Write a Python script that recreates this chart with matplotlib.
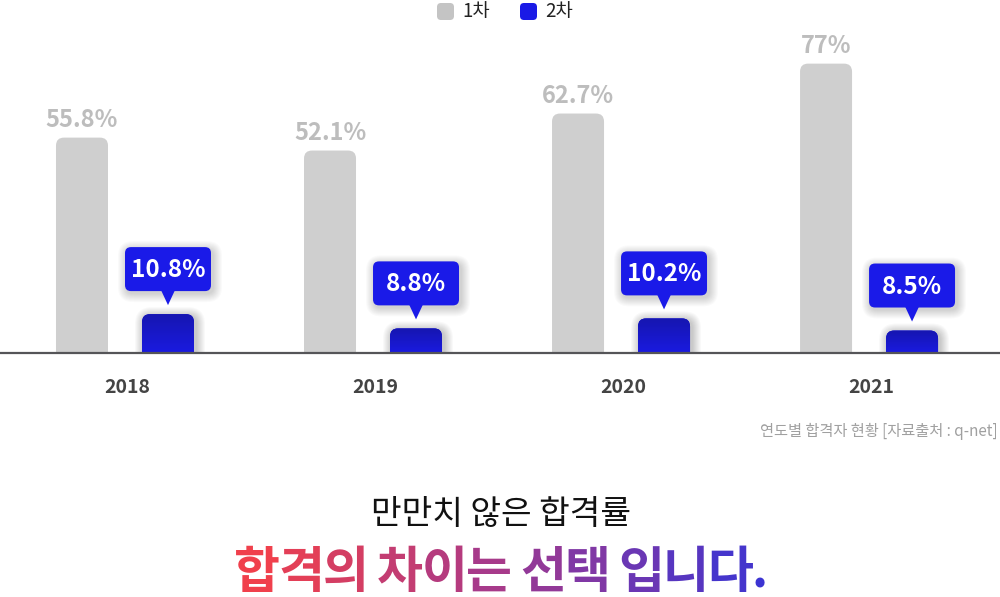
import numpy as np
import matplotlib
matplotlib.use('Agg')
import matplotlib.pyplot as plt
from matplotlib.patches import FancyBboxPatch, Polygon
from matplotlib.colors import LinearSegmentedColormap
from matplotlib.transforms import offset_copy

plt.rcParams['font.family'] = ['Noto Sans CJK KR', 'DejaVu Sans']

# ---------------- data ----------------
years = ['2018', '2019', '2020', '2021']
first_round = [55.8, 52.1, 62.7, 77]
second_round = [10.8, 8.8, 10.2, 8.5]
first_labels = ['55.8%', '52.1%', '62.7%', '77%']
second_labels = ['10.8%', '8.8%', '10.2%', '8.5%']
legend_labels = ['1차', '2차']
source_note = '연도별 합격자 현황 [자료출처 : q-net]'
title_line1 = '만만치 않은 합격률'
title_line2 = '합격의 차이는 선택 입니다.'

GRAY = '#cfcfcf'
BLUE = '#1a1ae6'

W, H = 1000, 597
fig = plt.figure(figsize=(W / 100, H / 100), dpi=100)
base_px = 353.3
rect = [0, 1 - base_px / H, 1, base_px / H]

ax1 = fig.add_axes(rect)
ax2 = fig.add_axes(rect)
for a in (ax1, ax2):
    a.set_xlim(-0.504, 3.528)
    a.axis('off')
ax1.set_ylim(-6.0, -6.0 + base_px / 3.49)
ax2.set_ylim(5.31, 5.31 + base_px / 7.14)
for a in (ax1, ax2):
    a.set_autoscale_on(False)

ov = fig.add_axes([0, 0, 1, 1], zorder=5)
ov.set_xlim(0, W)
ov.set_ylim(H, 0)
ov.axis('off')


def ux(ax):
    x0, x1 = ax.get_xlim()
    return (x1 - x0) / W


def uy(ax):
    y0, y1 = ax.get_ylim()
    return (y1 - y0) / base_px


def round_rect(ax, xc, y0, y1, wpx, rpx, **kw):
    u, v = ux(ax), uy(ax)
    w = wpx * u
    return FancyBboxPatch((xc - w / 2, y0), w, y1 - y0,
                          boxstyle=f"round,pad=0,rounding_size={rpx * u}",
                          mutation_aspect=v / u, **kw)


off = 43 / 248.0
x = np.arange(len(years))

# ---------------- gray bars (1차) ----------------
lo1 = ax1.get_ylim()[0]
v1 = uy(ax1)
for i, val in enumerate(first_round):
    p = round_rect(ax1, x[i] - off, lo1 - 20 * v1, val, 52, 8, fc=GRAY, ec='none', zorder=2)
    ax1.add_patch(p)
    ax1.text(x[i] - off, val, first_labels[i], ha='center', va='baseline',
             color='#bdbdbd', fontsize=17, fontweight='bold',
             transform=offset_copy(ax1.transData, fig, x=0, y=11, units='dots'))

# ---------------- blue bars (2차) ----------------
lo2 = ax2.get_ylim()[0]
u2, v2 = ux(ax2), uy(ax2)
bar_cmap = LinearSegmentedColormap.from_list('b', ['#1a1ae0', '#1616b0'])
grad = np.linspace(0, 1, 64).reshape(-1, 1)
for i, val in enumerate(second_round):
    xc = x[i] + off
    # soft shadow
    for k in range(1, 10):
        sh = round_rect(ax2, xc + 2 * u2, lo2 - 20 * v2, val + (k - 2) * v2, 52 + 2 * k, 8 + k,
                        fc='black', ec='none', alpha=0.022, zorder=2)
        ax2.add_patch(sh)
    p = round_rect(ax2, xc, lo2 - 20 * v2, val, 52, 8, fc=BLUE, ec='none', zorder=3)
    ax2.add_patch(p)
    w = 52 * u2
    im = ax2.imshow(grad, extent=[xc - w / 2, xc + w / 2, lo2, val], aspect='auto',
                    cmap=bar_cmap, origin='lower', zorder=3.1, interpolation='bilinear')
    im.set_clip_path(p)

    # callout
    b0 = val + 23 * v2
    b1 = b0 + 44 * v2
    for k in range(1, 10):
        sh = round_rect(ax2, xc + 2 * u2, b0 - (k + 2) * v2, b1 + (k - 3) * v2, 86 + 2 * k, 6 + k,
                        fc='black', ec='none', alpha=0.02, zorder=4)
        ax2.add_patch(sh)
    box = round_rect(ax2, xc, b0, b1, 86, 6, fc='#1a1ae8', ec='none', zorder=5)
    ax2.add_patch(box)
    tri = Polygon([[xc - 7 * u2, b0 + 1 * v2], [xc + 7 * u2, b0 + 1 * v2], [xc, b0 - 14 * v2]],
                  closed=True, fc='#1a1ae8', ec='none', zorder=5)
    ax2.add_patch(tri)
    ax2.text(xc, b0, second_labels[i], ha='center', va='baseline', color='white',
             fontsize=17.5, fontweight='bold', zorder=6,
             transform=offset_copy(ax2.transData, fig, x=0, y=14, units='dots'))

# baseline
ax2.axhline(lo2, color='#555558', lw=1.6, clip_on=False, zorder=8)

# year labels
for i, yr in enumerate(years):
    ax1.text(x[i] + 0.008, lo1, yr, ha='center', va='baseline', color='#444444',
             fontsize=14, fontweight='bold',
             transform=offset_copy(ax1.transData, fig, x=0, y=-40, units='dots'))

# ---------------- legend ----------------
leg_x = [437, 520]
leg_colors = ['#c4c4c4', BLUE]
for lx, lc, lab in zip(leg_x, leg_colors, legend_labels):
    ov.add_patch(FancyBboxPatch((lx, 3), 17, 17, boxstyle='round,pad=0,rounding_size=4',
                                fc=lc, ec='none'))
    ov.text(lx + 25, 12, lab, ha='left', va='center', fontsize=13.5, color='#222222')

# source note
ov.text(998, 436, source_note, ha='right', va='baseline', fontsize=11, color='#a0a0a0')

# title line 1
ov.text(501, 524, title_line1, ha='center', va='baseline', fontsize=24, color='#111111')

# title line 2 with per-character gradient
renderer = fig.canvas.get_renderer()
fs2 = 36
probe = ov.text(0, 0, '', fontsize=fs2, fontweight='bold')


def width_of(s):
    probe.set_text(s + '.')
    bb = probe.get_window_extent(renderer)
    probe.set_text('.')
    bb2 = probe.get_window_extent(renderer)
    return bb.width - bb2.width


tracking = -1.6
n = len(title_line2)
pos = []
for k in range(n):
    pos.append(width_of(title_line2[:k]) + tracking * k)
total = width_of(title_line2) + tracking * (n - 1)
probe.remove()
start = 501 - total / 2
grad_cmap = LinearSegmentedColormap.from_list('t', ['#f0404c', '#a23a8e', '#3c34d2'])
for k, ch in enumerate(title_line2):
    if ch == ' ':
        continue
    frac = pos[k] / (total * 0.93)
    ov.text(start + pos[k], 588, ch, ha='left', va='baseline', fontsize=fs2,
            fontweight='bold', color=grad_cmap(min(frac, 1.0)))

fig.savefig('out.png', dpi=100, facecolor='white')
